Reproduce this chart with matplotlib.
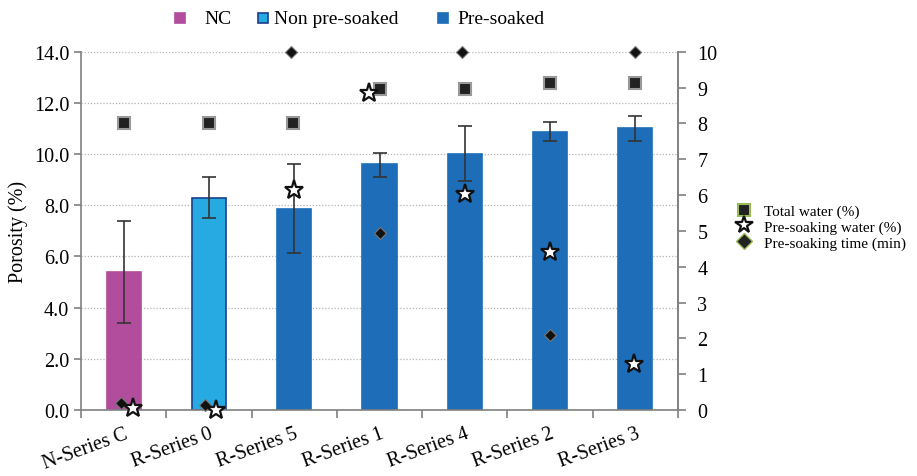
import matplotlib
matplotlib.use("Agg")
import matplotlib.pyplot as plt
from matplotlib.lines import Line2D
import numpy as np

plt.rcParams['font.family'] = ['Liberation Serif', 'DejaVu Serif']

categories = ["N-Series C", "R-Series 0", "R-Series 5", "R-Series 1", "R-Series 4", "R-Series 2", "R-Series 3"]
groups = ["NC", "Non pre-soaked", "Pre-soaked", "Pre-soaked", "Pre-soaked", "Pre-soaked", "Pre-soaked"]
porosity = [5.4, 8.3, 7.85, 9.6, 10.0, 10.87, 11.0]
err_upper = [7.4, 9.1, 9.6, 10.05, 11.1, 11.25, 11.5]
err_lower = [3.4, 7.5, 6.15, 9.1, 8.95, 10.5, 10.5]
total_water = [8.0, 8.0, 8.0, 8.95, 8.95, 9.13, 9.13]
presoak_water = [0.05, 0.0, 6.13, 8.85, 6.03, 4.4, 1.27]
presoak_time = [0.19, 0.14, 10.0, 4.93, 10.0, 2.08, 10.0]
left_ticks = [0.0, 2.0, 4.0, 6.0, 8.0, 10.0, 12.0, 14.0]
right_ticks = [0, 1, 2, 3, 4, 5, 6, 7, 8, 9, 10]
legend_groups = ["NC", "Non pre-soaked", "Pre-soaked"]
side_labels = ["Total water (%)", "Pre-soaking water (%)", "Pre-soaking time (min)"]

group_colors = {"NC": "#B24D9E", "Non pre-soaked": "#27AAE1", "Pre-soaked": "#1D6DB8"}
group_edges = {"NC": "#B24D9E", "Non pre-soaked": "#1A3E8C", "Pre-soaked": "#1D6DB8"}

fig = plt.figure(figsize=(9.17, 4.77), dpi=100)
ax = fig.add_axes([81/917, 1-411/477, (678-81)/917, (411-52.7)/477])

x = np.arange(len(categories))
cols = [group_colors[g] for g in groups]
edges = [group_edges[g] for g in groups]
ax.bar(x, porosity, width=0.4, color=cols, edgecolor=edges, linewidth=1.2, zorder=2)
yerr = [np.array(porosity) - np.array(err_lower), np.array(err_upper) - np.array(porosity)]
ax.errorbar(x, porosity, yerr=yerr, fmt='none', ecolor='#333333', elinewidth=1.2,
            capsize=5, capthick=1.2, zorder=3)

ax.set_xlim(-0.5, len(categories) - 0.5)
ax.set_ylim(0, 14)
ax.set_yticks(left_ticks)
ax.set_yticklabels([f"{v:.1f}" for v in left_ticks], fontsize=14.5)
ax.yaxis.grid(True, linestyle=(0, (1, 1.5)), color='#B5B5B5', linewidth=0.9, zorder=0)
ax.set_axisbelow(True)
ax.set_xticks(np.arange(-0.5, len(categories), 1.0))
ax.set_xticklabels([])
ax.set_xticks(x, minor=True)
ax.set_xticklabels(categories, minor=True, rotation=20, ha='right', rotation_mode='anchor', fontsize=14.5)
ax.tick_params(axis='x', which='minor', length=0, pad=10)
ax.tick_params(axis='x', which='major', length=6, color='#808080', width=1.2, direction='out')
ax.tick_params(axis='y', length=5, color='#808080', width=1.2, direction='out')
ax.set_ylabel("Porosity (%)", fontsize=14.5, labelpad=4)
for s in ['left', 'bottom', 'right']:
    ax.spines[s].set_color('#808080')
    ax.spines[s].set_linewidth(1.2)
ax.spines['top'].set_visible(False)

ax2 = ax.twinx()
ax2.set_ylim(0, 10)
ax2.set_yticks(right_ticks)
ax2.set_yticklabels([str(v) for v in right_ticks], fontsize=14.5)
ax2.tick_params(axis='y', length=6, color='#808080', width=1.2, direction='out', pad=8)
for s in ['left', 'bottom', 'top']:
    ax2.spines[s].set_visible(False)
ax2.spines['right'].set_color('#808080')
ax2.spines['right'].set_linewidth(1.2)

# small horizontal offsets to mimic the original marker placement
sq_off = np.array([0.0, 0.0, -0.02, 0.0, 0.0, 0.0, 0.0])
st_off = np.array([0.11, 0.08, 0.0, -0.12, 0.0, 0.0, -0.02])
di_off = np.array([-0.03, -0.05, -0.04, 0.0, -0.03, 0.0, 0.0])

ax2.plot(x + sq_off, total_water, linestyle='none', marker='s', markersize=9,
         markerfacecolor='#222222', markeredgecolor='#999999', markeredgewidth=1.5, zorder=5, clip_on=False)
ax2.plot(x + di_off, presoak_time, linestyle='none', marker='D', markersize=6,
         markerfacecolor='#111111', markeredgecolor='#777777', markeredgewidth=0.8, zorder=5, clip_on=False)
ax2.plot(x + st_off, presoak_water, linestyle='none', marker='*', markersize=14,
         markerfacecolor='white', markeredgecolor='#111111', markeredgewidth=1.6, zorder=6, clip_on=False)

# top legend (manually placed entries)
marker_px = [180, 263, 443]
text_px = [204, 274, 457]
ty = 1 - 19/477
for g, mx, tx in zip(legend_groups, marker_px, text_px):
    fig.add_artist(Line2D([mx/917], [ty], transform=fig.transFigure, linestyle='none', marker='s',
                          markersize=6.5, markerfacecolor=group_colors[g], markeredgecolor=group_edges[g],
                          markeredgewidth=1.2))
    fig.text(tx/917, ty, g, fontsize=14, ha='left', va='center')

# right legend
side_handles = [
    Line2D([], [], linestyle='none', marker='s', markersize=9, markerfacecolor='#222222',
           markeredgecolor='#9BBB59', markeredgewidth=1.5),
    Line2D([], [], linestyle='none', marker='*', markersize=13, markerfacecolor='white',
           markeredgecolor='#111111', markeredgewidth=1.6),
    Line2D([], [], linestyle='none', marker='D', markersize=8, markerfacecolor='#222222',
           markeredgecolor='#9BBB59', markeredgewidth=1.0),
]
fig.legend(side_handles, side_labels,
           loc='center left', bbox_to_anchor=(726/917, 1-228/477), frameon=False, fontsize=11,
           handlelength=1.0, handletextpad=0.8, labelspacing=0.12, borderpad=0.2)

fig.savefig("out.png", dpi=100)
